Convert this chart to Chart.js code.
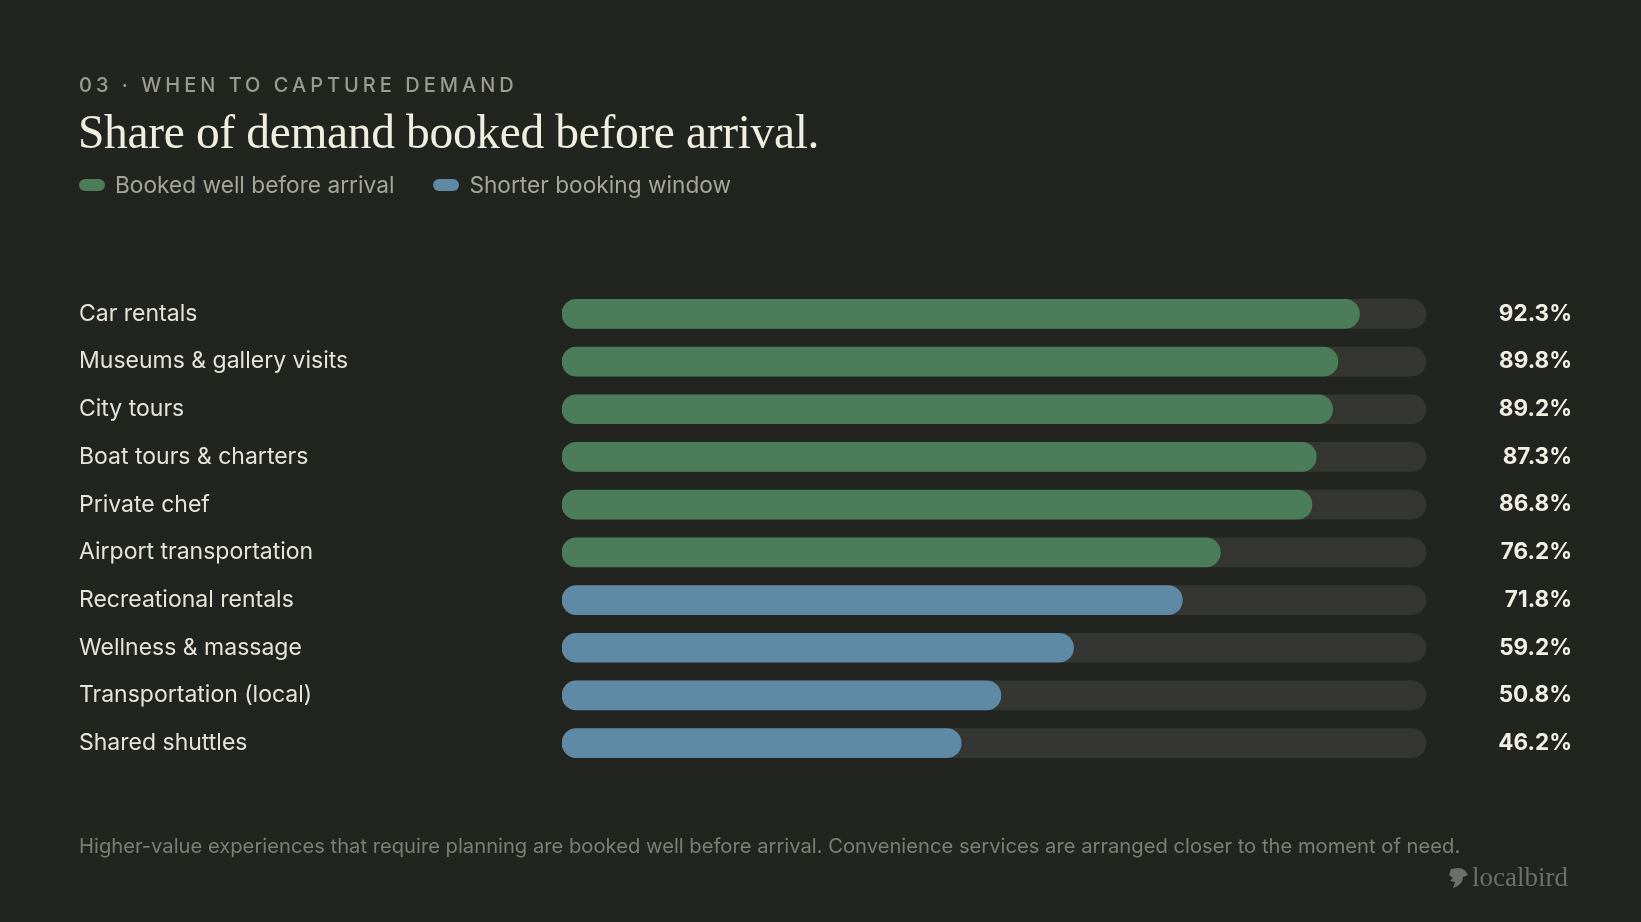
<!DOCTYPE html>
<html>
<head>
<meta charset="utf-8">
<script src="https://cdn.jsdelivr.net/npm/chart.js"></script>
<style>
  html, body { margin: 0; padding: 0; background: #22241f; }
  body { width: 1641px; height: 922px; position: relative; overflow: hidden; font-family: "Inter", sans-serif; }
  #wrap { position: absolute; left: 0; top: 0; width: 1641px; height: 922px; }
  .kicker { position: absolute; left: 79px; top: 73px; font-size: 20px; font-weight: 500; letter-spacing: 0.2em; color: #9b9b93; }
  .title { position: absolute; left: 78px; top: 105px; font-family: "Liberation Serif", serif; font-size: 47.5px; color: #efeedf; letter-spacing: -0.35px; }
  .legend { position: absolute; left: 79px; top: 171px; font-size: 22.7px; color: #a5a59c; display: flex; align-items: center; }
  .legend .sw { width: 26px; height: 12px; border-radius: 6px; display: inline-block; margin-right: 10px; }
  .legend .item { display: flex; align-items: center; margin-right: 39px; }
  .foot { position: absolute; left: 79px; top: 833px; font-size: 20.2px; color: #7d7e77; }
  .brand { position: absolute; left: 1449px; top: 862px; display: flex; align-items: center; color: #6d706a; font-family: "Liberation Serif", serif; font-size: 27px; }
  .brand svg { margin-right: 3px; }
</style>
</head>
<body>
<div id="wrap"><canvas id="c"></canvas></div>
<div class="kicker">03 · WHEN TO CAPTURE DEMAND</div>
<div class="title">Share of demand booked before arrival.</div>
<div class="legend">
  <span class="item"><span class="sw" style="background:#4b7d59"></span>Booked well before arrival</span>
  <span class="item"><span class="sw" style="background:#5f8aa6"></span>Shorter booking window</span>
</div>
<div class="foot">Higher-value experiences that require planning are booked well before arrival. Convenience services are arranged closer to the moment of need.</div>
<div class="brand">
  <svg width="20" height="22" viewBox="0 0 20 22"><path d="M2 2 L9 1 C14 1 17 4 19 8 L14 10 C14 15 10 19 4 21 L6 15 L1 14 L4 11 L0 8 Z" fill="#6d706a"/></svg>
  localbird
</div>
<script>
const categories = [
  "Car rentals",
  "Museums & gallery visits",
  "City tours",
  "Boat tours & charters",
  "Private chef",
  "Airport transportation",
  "Recreational rentals",
  "Wellness & massage",
  "Transportation (local)",
  "Shared shuttles"
];
const shares = [92.3, 89.8, 89.2, 87.3, 86.8, 76.2, 71.8, 59.2, 50.8, 46.2];
const groups = ["well", "well", "well", "well", "well", "well", "short", "short", "short", "short"];
const track = categories.map(() => 100);

const groupColors = { well: "#4b7d59", short: "#5f8aa6" };

const valueLabels = {
  id: "valueLabels",
  afterDatasetsDraw(chart) {
    const ctx = chart.ctx;
    const meta = chart.getDatasetMeta(0);
    ctx.save();
    ctx.font = "bold 22.5px Inter, sans-serif";
    ctx.fillStyle = "#f2f0e4";
    ctx.textAlign = "right";
    ctx.textBaseline = "middle";
    meta.data.forEach((bar, i) => {
      ctx.fillText(shares[i].toFixed(1) + "%", 1572, bar.y);
    });
    ctx.restore();
  }
};

new Chart(document.getElementById("c"), {
  type: "bar",
  data: {
    labels: categories,
    datasets: [
      {
        label: "Share",
        data: shares,
        backgroundColor: groups.map(g => groupColors[g]),
        borderRadius: 15,
        borderSkipped: false,
        barThickness: 29,
        grouped: false,
        order: 1
      },
      {
        label: "Track",
        data: track,
        backgroundColor: "#353631",
        borderRadius: 15,
        borderSkipped: false,
        barThickness: 29,
        grouped: false,
        order: 2
      }
    ]
  },
  options: {
    indexAxis: "y",
    responsive: true,
    maintainAspectRatio: false,
    animation: false,
    layout: { padding: { left: 79, right: 215, top: 290, bottom: 155 } },
    scales: {
      x: { min: 0, max: 100, display: false },
      y: {
        grid: { display: false },
        border: { display: false },
        afterFit(scale) { scale.width = 483; },
        ticks: {
          crossAlign: "far",
          color: "#e6e4d8",
          font: { family: "Inter", size: 23 }
        }
      }
    },
    plugins: {
      legend: { display: false },
      tooltip: { enabled: false }
    }
  },
  plugins: [valueLabels]
});
</script>
</body>
</html>
